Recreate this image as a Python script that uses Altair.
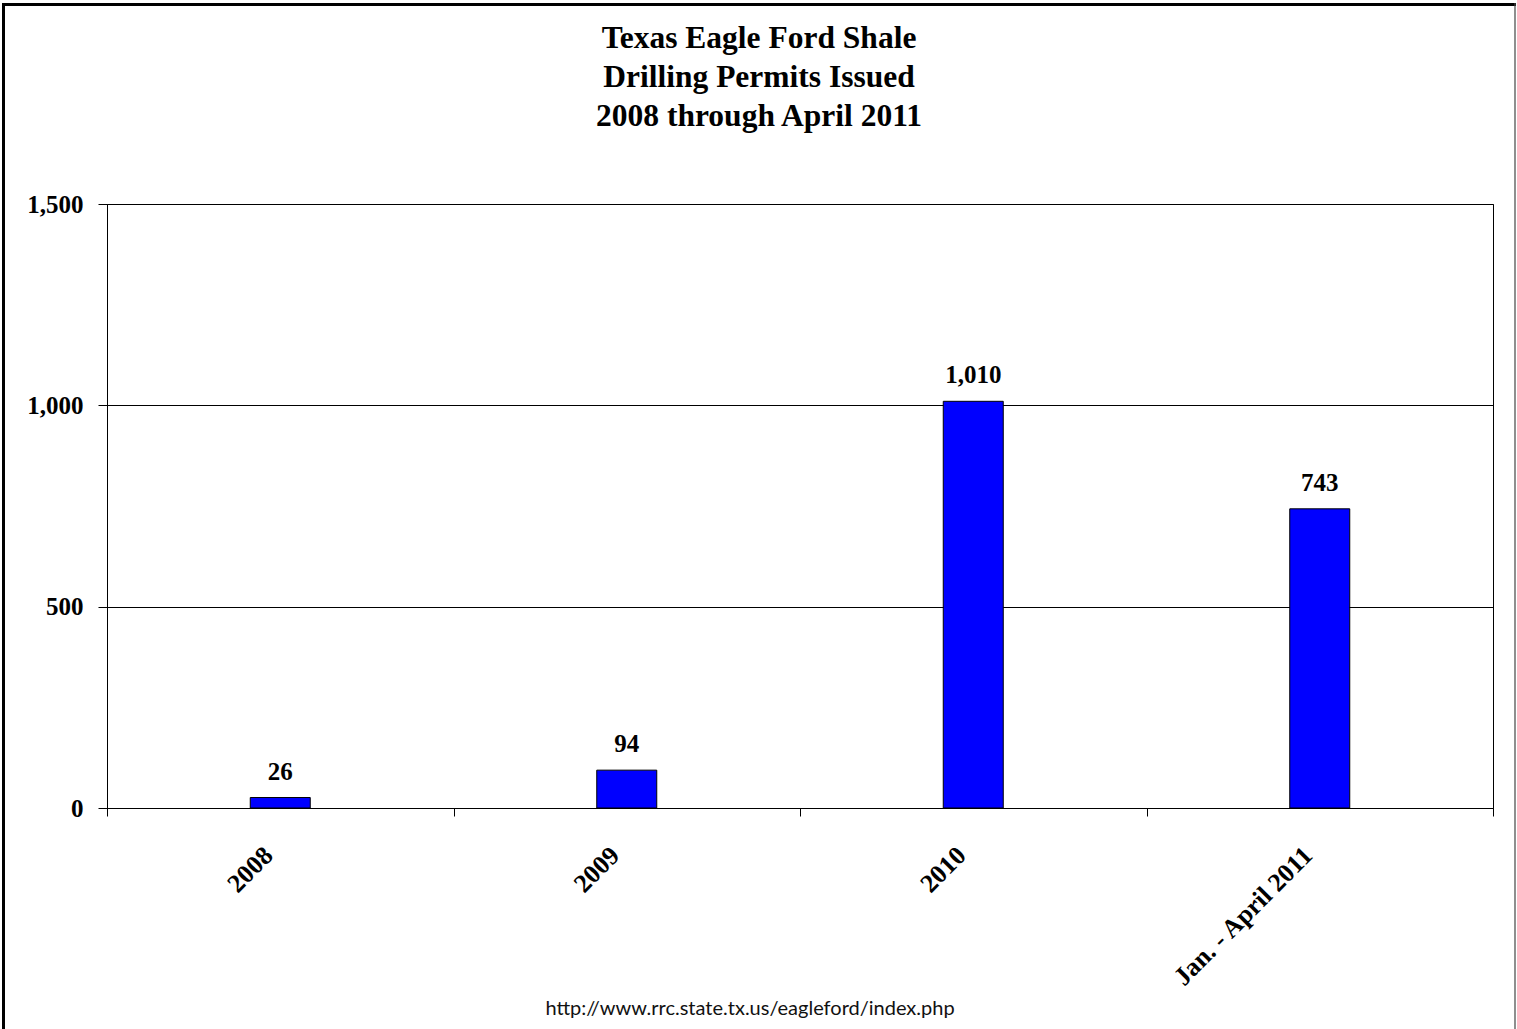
import altair as alt
import pandas as pd

# Permits issued per period
categories = ["2008", "2009", "2010", "Jan. - April 2011"]
permits = [26, 94, 1010, 743]
y_ticks = [0, 500, 1000, 1500]
title_lines = ["Texas Eagle Ford Shale", "Drilling Permits Issued", "2008 through April 2011"]
source_note = "http://www.rrc.state.tx.us/eagleford/index.php"

df = pd.DataFrame({"period": categories, "permits": permits})
df["label"] = [f"{v:,}" for v in permits]

W, H = 1386, 604
PAD_L, PAD_T, PAD_R, PAD_B = 107, 204, 24, 221
SERIF = "Liberation Serif"

x = alt.X(
    "period:N",
    sort=categories,
    title=None,
    scale=alt.Scale(paddingInner=0, paddingOuter=0),
    axis=alt.Axis(
        labelAngle=-45,
        labelAlign="right",
        labelBaseline="middle",
        tickBand="extent",
        tickSize=8,
        labelPadding=35,
        labelOffset=-12,
        labelFont=SERIF,
        labelFontSize=26,
        labelFontWeight="bold",
        labelColor="black",
        labelLimit=400,
        domainColor="black",
        tickColor="black",
        domainWidth=1,
        tickWidth=1,
    ),
)
y = alt.Y(
    "permits:Q",
    title=None,
    scale=alt.Scale(domain=[0, 1500], nice=False),
    axis=alt.Axis(
        values=y_ticks,
        format=",.0f",
        tickSize=9,
        labelPadding=15,
        labelFont=SERIF,
        labelFontSize=25,
        labelFontWeight="bold",
        labelColor="black",
        domainColor="black",
        tickColor="black",
        grid=True,
        gridColor="black",
        gridOpacity=1,
        gridWidth=1,
    ),
)

base = alt.Chart(df)

bars = base.mark_bar(width=60, color="#0000FF", stroke="black", strokeWidth=1).encode(x=x, y=y)

values = base.mark_text(
    baseline="alphabetic", dy=-18, font=SERIF, fontSize=25, fontWeight="bold", color="black"
).encode(x=x, y=y, text="label:N")

# Heading, frame around the whole figure and the source line underneath
deco = alt.Chart(pd.DataFrame({"k": [0]}))
heading = deco.mark_text(
    font=SERIF, fontSize=31.5, fontWeight="bold", color="black",
    align="center", baseline="alphabetic", lineHeight=39,
).encode(x=alt.value(759 - PAD_L), y=alt.value(48 - PAD_T), text=alt.value(title_lines))
top_edge = deco.mark_rule(color="black", strokeWidth=3).encode(
    x=alt.value(3 - PAD_L), x2=alt.value(1516 - PAD_L), y=alt.value(4.5 - PAD_T)
)
left_edge = deco.mark_rule(color="black", strokeWidth=3).encode(
    x=alt.value(3.5 - PAD_L), y=alt.value(3 - PAD_T), y2=alt.value(H + PAD_B)
)
right_edge = deco.mark_rule(color="#444444", strokeWidth=1.2).encode(
    x=alt.value(1515 - PAD_L), y=alt.value(3 - PAD_T), y2=alt.value(H + PAD_B)
)
source = deco.mark_text(font="Lato", fontSize=20, color="#111111", align="center", baseline="alphabetic").encode(
    x=alt.value(750 - PAD_L), y=alt.value(1015 - PAD_T), text=alt.value(source_note)
)

chart = (
    alt.layer(bars, values, heading, top_edge, left_edge, right_edge, source)
    .properties(
        width=W,
        height=H,
        autosize=alt.AutoSizeParams(type="none"),
        padding={"left": PAD_L, "top": PAD_T, "right": PAD_R, "bottom": PAD_B},
        background="white",
    )
    .configure_view(stroke="black", strokeWidth=1)
)

chart.save("out.html", embed_options={"renderer": "svg", "actions": False})
